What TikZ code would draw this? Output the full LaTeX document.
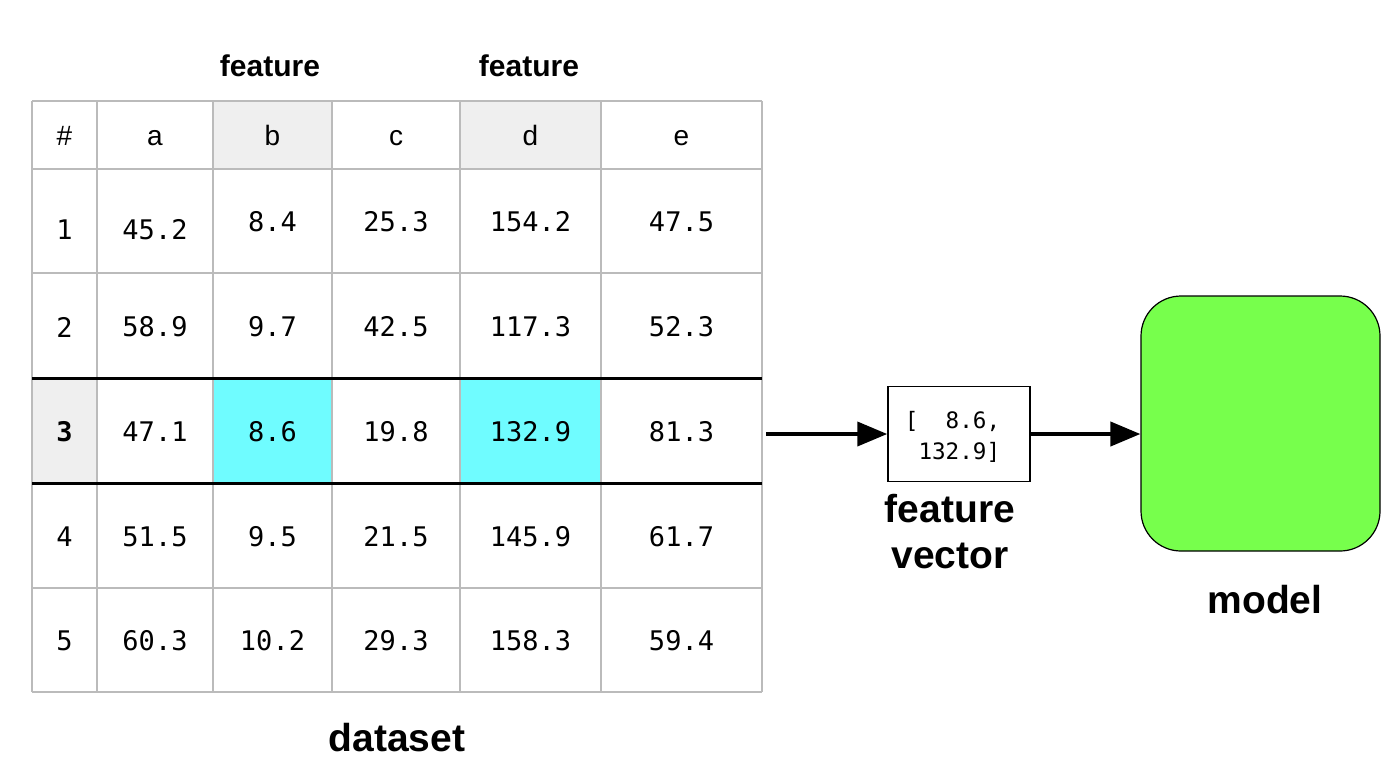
\documentclass[tikz,border=0pt]{standalone}
\usepackage{fontspec}
\setmainfont{Liberation Sans}
\newfontfamily\numfont{DejaVu Sans Mono}
\usetikzlibrary{arrows.meta,positioning}

\definecolor{gridgray}{HTML}{BBBBBB}
\definecolor{headgray}{HTML}{EFEFEF}
\definecolor{pickcyan}{HTML}{6FFCFF}
\definecolor{modelgreen}{HTML}{77FF4C}

\tikzset{
  numcell/.style={font=\numfont\fontsize{13.5}{16}\selectfont,inner sep=0pt},
  headcell/.style={font=\fontsize{14}{16}\selectfont,inner sep=0pt,anchor=base},
  caption/.style={font=\bfseries\fontsize{19.5}{23}\selectfont,align=center,inner sep=0pt},
  featlabel/.style={font=\bfseries\fontsize{15}{17}\selectfont,inner sep=0pt},
  flow/.style={-{Triangle[length=15pt,width=12pt]},line width=2pt}
}

\begin{document}
\begin{tikzpicture}[x=0.5pt,y=-0.5pt]
\useasboundingbox (0,0) rectangle (1390,778);

% shaded cells
\fill[headgray] (213,101) rectangle (332,169);
\fill[headgray] (460,101) rectangle (601,169);
\fill[headgray] (32,378) rectangle (97,483);
\fill[pickcyan] (213,378) rectangle (332,483);
\fill[pickcyan] (460,378) rectangle (601,483);

% grid
\foreach \gx in {32,97,213,332,460,601,762}
  \draw[gridgray,line width=0.75pt] (\gx,101) -- (\gx,692);
\foreach \gy in {101,169,273,588,692}
  \draw[gridgray,line width=0.75pt] (32,\gy) -- (762,\gy);
\draw[line width=1.5pt] (32,378) -- (762,378);
\draw[line width=1.5pt] (32,483) -- (762,483);

% header row
\def\colx{{64.5,155,272.5,396,530.5,681.5}}
\foreach \h [count=\c from 0] in {\#,a,b,c,d,e}{
  \pgfmathsetmacro\cx{\colx[\c]}
  \node[headcell] (h\c) at (\cx,145) {\h};
}

% data rows (row 1 index and first value sit a bit lower)
\foreach \r/\ry/\iy/\vals in {1/222/230/{45.2,8.4,25.3,154.2,47.5},
                             2/327/327/{58.9,9.7,42.5,117.3,52.3},
                             3/432/432/{47.1,8.6,19.8,132.9,81.3},
                             4/537/537/{51.5,9.5,21.5,145.9,61.7},
                             5/641/641/{60.3,10.2,29.3,158.3,59.4}}{
  \ifnum\r=3
    \node[numcell,font=\numfont\bfseries\fontsize{13.5}{16}\selectfont] (r\r c0) at (64.5,\iy) {\r};
  \else
    \node[numcell] (r\r c0) at (64.5,\iy) {\r};
  \fi
  \foreach \v [count=\c] in \vals{
    \pgfmathsetmacro\cx{\colx[\c]}
    \pgfmathsetmacro\cy{\c==1 ? \iy : \ry}
    \node[numcell] (r\r c\c) at (\cx,\cy) {\v};
  }
}

\node[featlabel] (fb) at (270,66) {feature};
\node[featlabel] (fd) at (529,66) {feature};
\node[caption] (dataset) at (397,738) {dataset};

% feature vector and model
\coordinate (tblout) at (766,434);
\node[draw,line width=0.75pt,minimum width=71pt,minimum height=47.5pt,inner sep=0pt] (vec) at (959,434) {};
\node[font=\numfont\fontsize{11.3}{15.5}\selectfont,align=left,inner sep=0pt] (vectext) at (952.5,437)
      {[\ \ 8.6,\\\ 132.9]};
\node[caption] (veclabel) at (950,532) {feature\\vector};
\node[draw,line width=0.6pt,fill=modelgreen,rounded corners=20pt,
      minimum width=119.5pt,minimum height=127.5pt] (model) at (1260.5,423.5) {};
\node[caption] (modellabel) at (1265,600) {model};

\draw[flow] (tblout) -- (vec.west);
\draw[flow] (vec.east) -- (vec.east -| model.west);

\end{tikzpicture}
\end{document}
